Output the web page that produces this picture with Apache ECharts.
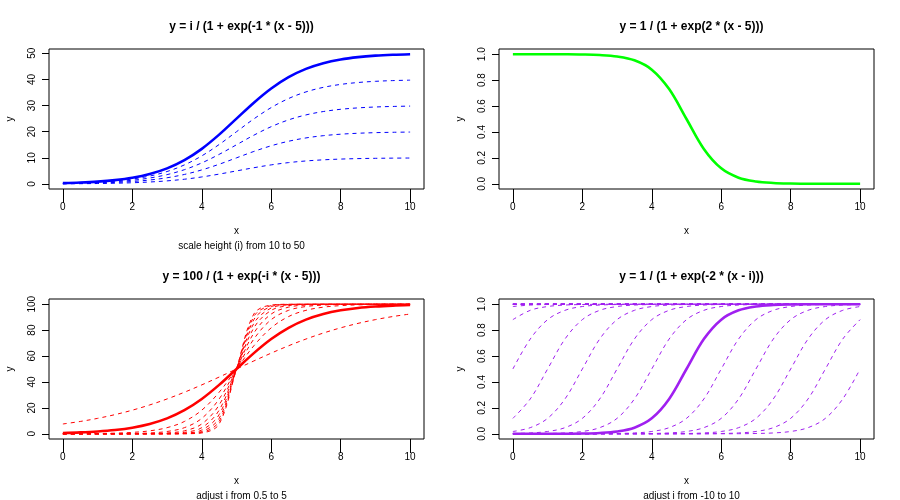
<!DOCTYPE html>
<html>
<head>
<meta charset="utf-8">
<script src="https://cdn.jsdelivr.net/npm/echarts@6/dist/echarts.min.js"></script>
<style>html,body{margin:0;padding:0;background:#fff}#c{width:900px;height:500px}</style>
</head>
<body>
<div id="c"></div>
<script>
// shared x sample points
const xValues = [0,0.5,1,1.5,2,2.5,3,3.5,4,4.5,5,5.5,6,6.5,7,7.5,8,8.5,9,9.5,10];
const xTicks = [0,2,4,6,8,10];

// Panel 1: y = i / (1 + exp(-1 * (x - 5))), i = 10..50
const p1_i10 = [0.07,0.11,0.18,0.29,0.47,0.76,1.19,1.82,2.69,3.78,5.0,6.22,7.31,8.18,8.81,9.24,9.53,9.71,9.82,9.89,9.93];
const p1_i20 = [0.13,0.22,0.36,0.59,0.95,1.52,2.38,3.65,5.38,7.55,10.0,12.45,14.62,16.35,17.62,18.48,19.05,19.41,19.64,19.78,19.87];
const p1_i30 = [0.20,0.33,0.54,0.88,1.42,2.28,3.58,5.47,8.07,11.33,15.0,18.67,21.93,24.53,26.42,27.72,28.58,29.12,29.46,29.67,29.80];
const p1_i40 = [0.27,0.44,0.72,1.17,1.90,3.03,4.77,7.30,10.76,15.10,20.0,24.90,29.24,32.70,35.23,36.97,38.10,38.83,39.28,39.56,39.73];
const p1_i50 = [0.33,0.55,0.90,1.47,2.37,3.79,5.96,9.12,13.45,18.88,25.0,31.12,36.55,40.88,44.04,46.21,47.63,48.53,49.10,49.45,49.67];
const p1Ticks = [0,10,20,30,40,50];

// Panel 2: y = 1 / (1 + exp(2 * (x - 5)))
const p2_y = [0.99995,0.99988,0.99966,0.99909,0.99753,0.99331,0.98201,0.95257,0.88080,0.73106,0.5,0.26894,0.11920,0.04743,0.01799,0.00669,0.00247,0.00091,0.00034,0.00012,0.00005];
const unitTicks = [0,0.2,0.4,0.6,0.8,1.0];

// Panel 3: y = 100 / (1 + exp(-i * (x - 5))), i = 0.5..5
const p3_i0_5 = [7.59,9.53,11.92,14.80,18.24,22.27,26.89,32.08,37.75,43.78,50,56.22,62.25,67.92,73.11,77.73,81.76,85.20,88.08,90.47,92.41];
const p3_i1_0 = [0.67,1.10,1.80,2.93,4.74,7.59,11.92,18.24,26.89,37.75,50,62.25,73.11,81.76,88.08,92.41,95.26,97.07,98.20,98.90,99.33];
const p3_i1_5 = [0.06,0.12,0.25,0.52,1.10,2.30,4.74,9.53,18.24,32.08,50,67.92,81.76,90.47,95.26,97.70,98.90,99.48,99.75,99.88,99.94];
const p3_i2_0 = [0.00,0.01,0.03,0.09,0.25,0.67,1.80,4.74,11.92,26.89,50,73.11,88.08,95.26,98.20,99.33,99.75,99.91,99.97,99.99,100];
const p3_i2_5 = [0,0,0,0.02,0.06,0.19,0.67,2.30,7.59,22.27,50,77.73,92.41,97.70,99.33,99.81,99.94,99.98,100,100,100];
const p3_i3_0 = [0,0,0,0,0.01,0.06,0.25,1.10,4.74,18.24,50,81.76,95.26,98.90,99.75,99.94,99.99,100,100,100,100];
const p3_i3_5 = [0,0,0,0,0,0.02,0.09,0.52,2.93,14.80,50,85.20,97.07,99.48,99.91,99.98,100,100,100,100,100];
const p3_i4_0 = [0,0,0,0,0,0,0.03,0.25,1.80,11.92,50,88.08,98.20,99.75,99.97,100,100,100,100,100,100];
const p3_i4_5 = [0,0,0,0,0,0,0.01,0.12,1.10,9.53,50,90.47,98.90,99.88,99.99,100,100,100,100,100,100];
const p3_i5_0 = [0,0,0,0,0,0,0,0.06,0.67,7.59,50,92.41,99.33,99.94,100,100,100,100,100,100,100];
const p3Ticks = [0,20,40,60,80,100];

// Panel 4: y = 1 / (1 + exp(-2 * (x - i))), i = -10..10
const p4_im10 = [1,1,1,1,1,1,1,1,1,1,1,1,1,1,1,1,1,1,1,1,1];
const p4_im9 = [1,1,1,1,1,1,1,1,1,1,1,1,1,1,1,1,1,1,1,1,1];
const p4_im8 = [1,1,1,1,1,1,1,1,1,1,1,1,1,1,1,1,1,1,1,1,1];
const p4_im7 = [1,1,1,1,1,1,1,1,1,1,1,1,1,1,1,1,1,1,1,1,1];
const p4_im6 = [1,1,1,1,1,1,1,1,1,1,1,1,1,1,1,1,1,1,1,1,1];
const p4_im5 = [1,1,1,1,1,1,1,1,1,1,1,1,1,1,1,1,1,1,1,1,1];
const p4_im4 = [0.9997,0.9999,1,1,1,1,1,1,1,1,1,1,1,1,1,1,1,1,1,1,1];
const p4_im3 = [0.9975,0.9991,0.9997,0.9999,1,1,1,1,1,1,1,1,1,1,1,1,1,1,1,1,1];
const p4_im2 = [0.982,0.9933,0.9975,0.9991,0.9997,0.9999,1,1,1,1,1,1,1,1,1,1,1,1,1,1,1];
const p4_im1 = [0.8808,0.9526,0.982,0.9933,0.9975,0.9991,0.9997,0.9999,1,1,1,1,1,1,1,1,1,1,1,1,1];
const p4_i0 = [0.5,0.7311,0.8808,0.9526,0.982,0.9933,0.9975,0.9991,0.9997,0.9999,1,1,1,1,1,1,1,1,1,1,1];
const p4_i1 = [0.1192,0.2689,0.5,0.7311,0.8808,0.9526,0.982,0.9933,0.9975,0.9991,0.9997,0.9999,1,1,1,1,1,1,1,1,1];
const p4_i2 = [0.018,0.0474,0.1192,0.2689,0.5,0.7311,0.8808,0.9526,0.982,0.9933,0.9975,0.9991,0.9997,0.9999,1,1,1,1,1,1,1];
const p4_i3 = [0.0025,0.0067,0.018,0.0474,0.1192,0.2689,0.5,0.7311,0.8808,0.9526,0.982,0.9933,0.9975,0.9991,0.9997,0.9999,1,1,1,1,1];
const p4_i4 = [0.0003,0.0009,0.0025,0.0067,0.018,0.0474,0.1192,0.2689,0.5,0.7311,0.8808,0.9526,0.982,0.9933,0.9975,0.9991,0.9997,0.9999,1,1,1];
const p4_i5 = [0,0.0001,0.0003,0.0009,0.0025,0.0067,0.018,0.0474,0.1192,0.2689,0.5,0.7311,0.8808,0.9526,0.982,0.9933,0.9975,0.9991,0.9997,0.9999,1];
const p4_i6 = [0,0,0,0.0001,0.0003,0.0009,0.0025,0.0067,0.018,0.0474,0.1192,0.2689,0.5,0.7311,0.8808,0.9526,0.982,0.9933,0.9975,0.9991,0.9997];
const p4_i7 = [0,0,0,0,0,0.0001,0.0003,0.0009,0.0025,0.0067,0.018,0.0474,0.1192,0.2689,0.5,0.7311,0.8808,0.9526,0.982,0.9933,0.9975];
const p4_i8 = [0,0,0,0,0,0,0,0.0001,0.0003,0.0009,0.0025,0.0067,0.018,0.0474,0.1192,0.2689,0.5,0.7311,0.8808,0.9526,0.982];
const p4_i9 = [0,0,0,0,0,0,0,0,0,0.0001,0.0003,0.0009,0.0025,0.0067,0.018,0.0474,0.1192,0.2689,0.5,0.7311,0.8808];
const p4_i10 = [0,0,0,0,0,0,0,0,0,0,0,0.0001,0.0003,0.0009,0.0025,0.0067,0.018,0.0474,0.1192,0.2689,0.5];

const titles = ['y = i / (1 + exp(-1 * (x - 5)))','y = 1 / (1 + exp(2 * (x - 5)))','y = 100 / (1 + exp(-i * (x - 5)))','y = 1 / (1 + exp(-2 * (x - i)))'];
const subtitles = ['scale height (i) from 10 to 50','','adjust i from 0.5 to 5','adjust i from -10 to 10'];

const FONT = '"Liberation Sans", Arial, sans-serif';
const BLUE = '#0000FF', GREEN = '#00FF00', RED = '#FF0000', PURPLE = '#A020F0';

const grids = [
  {left:49, top:49, width:375, height:140},
  {left:499, top:49, width:375, height:140},
  {left:49, top:299, width:375, height:140},
  {left:499, top:299, width:375, height:140}
];
const yRanges = [[-1.92,51.65],[-0.04,1.04],[-4,104],[-0.04,1.04]];
const yTickSets = [p1Ticks, unitTicks, p3Ticks, unitTicks];

function mk(g, ys, color, bold) {
  return {
    type:'line', xAxisIndex:g, yAxisIndex:g,
    data: xValues.map((x,k)=>[x, ys[k]]),
    symbol:'none', showSymbol:false, smooth:0.35,
    silent:true, z: bold?4:3, clip:true,
    lineStyle:{color:color, width: bold?2.6:1, type: bold?'solid':[4,4]}
  };
}

const series = [];
[p1_i10,p1_i20,p1_i30,p1_i40].forEach(a=>series.push(mk(0,a,BLUE,false)));
series.push(mk(0,p1_i50,BLUE,true));
series.push(mk(1,p2_y,GREEN,true));
[p3_i0_5,p3_i1_5,p3_i2_0,p3_i2_5,p3_i3_0,p3_i3_5,p3_i4_0,p3_i4_5,p3_i5_0].forEach(a=>series.push(mk(2,a,RED,false)));
series.push(mk(2,p3_i1_0,RED,true));
[p4_im10,p4_im9,p4_im8,p4_im7,p4_im6,p4_im5,p4_im4,p4_im3,p4_im2,p4_im1,p4_i0,p4_i1,p4_i2,p4_i3,p4_i4,p4_i6,p4_i7,p4_i8,p4_i9,p4_i10].forEach(a=>series.push(mk(3,a,PURPLE,false)));
series.push(mk(3,p4_i5,PURPLE,true));

const titleArr = [];
grids.forEach((g,k)=>{
  const cx = g.left + g.width/2;
  titleArr.push({text:titles[k], left:cx, top:g.top-33, textAlign:'center',
    textStyle:{fontFamily:FONT, fontSize:12, fontWeight:'bold', color:'#000'}});
  if (subtitles[k]) titleArr.push({text:subtitles[k], left:cx, top:g.top+187, textAlign:'center',
    textStyle:{fontFamily:FONT, fontSize:10, fontWeight:'normal', color:'#000'}});
});

const option = {
  animation:false,
  backgroundColor:'#fff',
  title: titleArr,
  grid: grids.map(g=>Object.assign({show:true, borderColor:'#000', borderWidth:1, backgroundColor:'transparent', containLabel:false}, g)),
  xAxis: grids.map((g,k)=>({
    type:'value', gridIndex:k, min:-0.4, max:10.4, position:'bottom',
    name:'x', nameLocation:'middle', nameGap:37,
    nameTextStyle:{fontFamily:FONT, fontSize:10, color:'#000'},
    axisLine:{show:false, onZero:false},
    axisTick:{show:true, inside:false, length:14, customValues:xTicks, lineStyle:{color:'#000', width:1}},
    axisLabel:{show:true, customValues:xTicks, margin:13, fontFamily:FONT, fontSize:10, color:'#000'},
    splitLine:{show:false}
  })),
  yAxis: grids.map((g,k)=>({
    type:'value', gridIndex:k, min:yRanges[k][0], max:yRanges[k][1], position:'left',
    name:'y', nameLocation:'middle', nameGap:34, nameRotate:90,
    nameTextStyle:{fontFamily:FONT, fontSize:10, color:'#000'},
    axisLine:{show:false, onZero:false},
    axisTick:{show:true, inside:false, length:7, customValues:yTickSets[k], lineStyle:{color:'#000', width:1}},
    axisLabel:{show:true, customValues:yTickSets[k], rotate:90, margin:12, fontFamily:FONT, fontSize:10, color:'#000',
      formatter: v => (k===1||k===3) ? v.toFixed(1) : String(Math.round(v))},
    splitLine:{show:false}
  })),
  series: series
};

const chart = echarts.init(document.getElementById('c'), null, {renderer:'canvas'});
chart.setOption(option);
</script>
</body>
</html>
